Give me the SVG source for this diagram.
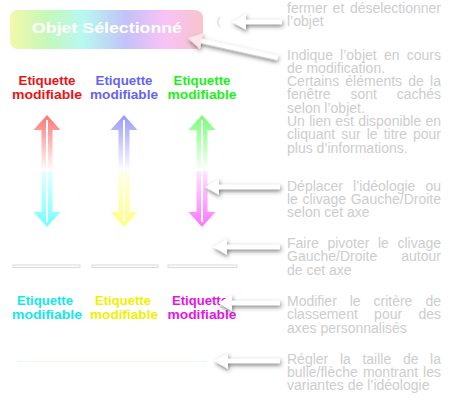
<svg xmlns="http://www.w3.org/2000/svg" width="450" height="400" viewBox="0 0 450 400">
<style>
.d{font-family:"Liberation Sans",Arial,sans-serif;font-size:14px;fill:#cdcdcd}
.e{text-anchor:end}
.lab{font-family:"Liberation Sans",Arial,sans-serif;font-size:13px;font-weight:bold;text-anchor:middle}
.ar{fill:#ffffff;filter:url(#sh)}
.trk{fill:#ffffff;stroke:#dadada;stroke-width:1}
.mid{stroke:#ffffff;stroke-width:2}
</style>
<defs>
<filter id="sh" x="-30%" y="-80%" width="160%" height="260%">
<feDropShadow dx="1" dy="2" stdDeviation="2.3" flood-color="#333" flood-opacity="0.65"/>
</filter>
<linearGradient id="btn" x1="0" y1="0" x2="1" y2="0">
<stop offset="0" stop-color="#f2f8a8"/>
<stop offset="0.2" stop-color="#c4f8bc"/>
<stop offset="0.38" stop-color="#b8f8f0"/>
<stop offset="0.6" stop-color="#c2c2f8"/>
<stop offset="0.8" stop-color="#f8c2f6"/>
<stop offset="1" stop-color="#f8c4cc"/>
</linearGradient>
<linearGradient id="g1" x1="0" y1="0" x2="0" y2="1">
<stop offset="0" stop-color="#ff0000" stop-opacity="0.55"/>
<stop offset="0.5" stop-color="#ff0000" stop-opacity="0"/>
<stop offset="0.5" stop-color="#00ffff" stop-opacity="0.1"/>
<stop offset="1" stop-color="#00ffff" stop-opacity="0.55"/>
</linearGradient>
<linearGradient id="g2" x1="0" y1="0" x2="0" y2="1">
<stop offset="0" stop-color="#3333ff" stop-opacity="0.5"/>
<stop offset="0.5" stop-color="#3333ff" stop-opacity="0"/>
<stop offset="0.5" stop-color="#ffff00" stop-opacity="0.1"/>
<stop offset="1" stop-color="#ffff00" stop-opacity="0.5"/>
</linearGradient>
<linearGradient id="g3" x1="0" y1="0" x2="0" y2="1">
<stop offset="0" stop-color="#00ff00" stop-opacity="0.55"/>
<stop offset="0.5" stop-color="#00ff00" stop-opacity="0"/>
<stop offset="0.5" stop-color="#ff00ff" stop-opacity="0.1"/>
<stop offset="1" stop-color="#ff00ff" stop-opacity="0.55"/>
</linearGradient>
<path id="dbl" d="M0,115 L13.5,130 L5.5,130 L5.5,212 L13.5,212 L0,227 L-13.5,212 L-5.5,212 L-5.5,130 L-13.5,130 Z"/>
</defs>

<g id="button">
<rect x="10" y="10" width="193" height="39" rx="8" fill="url(#btn)"/>
<text x="32" y="33" textLength="150" lengthAdjust="spacingAndGlyphs" style="font-family:'Liberation Sans',Arial,sans-serif;font-size:15px;font-weight:bold;fill:#ffffff">Objet Sélectionné</text>
</g>
<g id="close-icon">
<path d="M220,17 Q215.5,22 220,27" fill="none" stroke="#dcdcf6" stroke-width="1.5"/>
</g>

<g id="label-top-1"><text class="lab" x="47" y="85" fill="#e81414" textLength="57" lengthAdjust="spacingAndGlyphs">Etiquette</text><text class="lab" x="47" y="99" fill="#e81414" textLength="70" lengthAdjust="spacingAndGlyphs">modifiable</text></g>
<g id="label-top-2"><text class="lab" x="124" y="85" fill="#6464f0" textLength="57" lengthAdjust="spacingAndGlyphs">Etiquette</text><text class="lab" x="124" y="99" fill="#6464f0" textLength="68" lengthAdjust="spacingAndGlyphs">modifiable</text></g>
<g id="label-top-3"><text class="lab" x="202" y="85" fill="#1cf01c" textLength="57" lengthAdjust="spacingAndGlyphs">Etiquette</text><text class="lab" x="202" y="99" fill="#1cf01c" textLength="69" lengthAdjust="spacingAndGlyphs">modifiable</text></g>

<g id="axis-1"><use href="#dbl" x="47" fill="url(#g1)"/><line class="mid" x1="47" y1="120" x2="47" y2="222"/></g>
<g id="axis-2"><use href="#dbl" x="124" fill="url(#g2)"/><line class="mid" x1="124" y1="120" x2="124" y2="222"/></g>
<g id="axis-3"><use href="#dbl" x="202" fill="url(#g3)"/><line class="mid" x1="202" y1="120" x2="202" y2="222"/></g>

<g id="slider-1"><rect class="trk" x="13" y="265" width="67" height="2.5"/></g>
<g id="slider-2"><rect class="trk" x="92" y="265" width="66" height="2.5"/></g>
<g id="slider-3"><rect class="trk" x="168" y="265" width="69" height="2.5"/></g>

<g id="label-bottom-1"><text class="lab" x="45" y="305" fill="#14e8e8" textLength="56" lengthAdjust="spacingAndGlyphs">Etiquette</text><text class="lab" x="47" y="318.5" fill="#14e8e8" textLength="70" lengthAdjust="spacingAndGlyphs">modifiable</text></g>
<g id="label-bottom-2"><text class="lab" x="123" y="305" fill="#f0f000" textLength="56" lengthAdjust="spacingAndGlyphs">Etiquette</text><text class="lab" x="124" y="318.5" fill="#f0f000" textLength="68" lengthAdjust="spacingAndGlyphs">modifiable</text></g>
<g id="label-bottom-3"><text class="lab" x="200" y="305" fill="#e414e4" textLength="56" lengthAdjust="spacingAndGlyphs">Etiquette</text><text class="lab" x="202" y="318.5" fill="#e414e4" textLength="69" lengthAdjust="spacingAndGlyphs">modifiable</text></g>

<g id="size-slider"><line x1="17" y1="361.5" x2="207" y2="361.5" stroke="#e6f8e6" stroke-width="1"/></g>

<g id="connectors">
<path class="ar" transform="translate(232,22)" d="M0,0 L14,-8 L14,-2.3 L50,-2.3 L50,2.3 L14,2.3 L14,8 Z"/>
<g transform="translate(188,38) rotate(12.5)">
<path class="ar" d="M0,0 L14,-8 L14,-2.3 L92,-2.3 L92,2.3 L14,2.3 L14,8 Z"/>
<path d="M0,0 L14,-8 L14,8 Z" fill="#f8c8d4" opacity="0.45"/>
</g>
<path class="ar" transform="translate(205,187)" d="M0,0 L14,-8 L14,-2.3 L75,-2.3 L75,2.3 L14,2.3 L14,8 Z"/>
<path class="ar" transform="translate(213,247)" d="M0,0 L14,-8 L14,-2.3 L67,-2.3 L67,2.3 L14,2.3 L14,8 Z"/>
<path class="ar" transform="translate(218,303)" d="M0,0 L14,-8 L14,-2.3 L62,-2.3 L62,2.3 L14,2.3 L14,8 Z"/>
<path class="ar" transform="translate(214,361)" d="M0,0 L14,-8 L14,-2.3 L66,-2.3 L66,2.3 L14,2.3 L14,8 Z"/>
</g>

<g id="desc-close">
<text class="d" y="12.5"><tspan x="287">fermer</tspan><tspan x="332.6">et</tspan></text><text class="d e" x="441" y="12.5">déselectionner</text>
<text class="d" x="287" y="25.8">l’objet</text>
</g>

<g id="desc-object">
<text class="d" y="59.5"><tspan x="287">Indique</tspan><tspan x="340.1">l’objet</tspan><tspan x="383.9">en</tspan></text><text class="d e" x="441" y="59.5">cours</text>
<text class="d" x="287" y="72.8">de modification.</text>
<text class="d" y="86.1"><tspan x="287">Certains</tspan><tspan x="345.3">éléments</tspan><tspan x="408.3">de</tspan></text><text class="d e" x="441" y="86.1">la</text>
<text class="d" y="99.4"><tspan x="287">fenêtre</tspan><tspan x="350.4">sont</tspan></text><text class="d e" x="441" y="99.4">cachés</text>
<text class="d" x="287" y="112.7">selon l’objet.</text>
<text class="d" y="126"><tspan x="287">Un</tspan><tspan x="309.2">lien</tspan><tspan x="335.2">est</tspan><tspan x="358.2">disponible</tspan></text><text class="d e" x="441" y="126">en</text>
<text class="d" y="139.3"><tspan x="287">cliquant</tspan><tspan x="341.3">sur</tspan><tspan x="366.7">le</tspan><tspan x="383.7">titre</tspan></text><text class="d e" x="441" y="139.3">pour</text>
<text class="d" x="287" y="152.6">plus d’informations.</text>
</g>

<g id="desc-move">
<text class="d" y="190.5"><tspan x="287">Déplacer</tspan><tspan x="353.1">l’idéologie</tspan></text><text class="d e" x="441" y="190.5">ou</text>
<text class="d" y="203.8"><tspan x="287">le</tspan><tspan x="302.5">clivage</tspan></text><text class="d e" x="441" y="203.8">Gauche/Droite</text>
<text class="d" x="287" y="217.1">selon cet axe</text>
</g>

<g id="desc-rotate">
<text class="d" y="248"><tspan x="287">Faire</tspan><tspan x="327.4">pivoter</tspan><tspan x="377.9">le</tspan></text><text class="d e" x="441" y="248">clivage</text>
<text class="d" x="287" y="261.3">Gauche/Droite</text><text class="d e" x="441" y="261.3">autour</text>
<text class="d" x="287" y="274.6">de cet axe</text>
</g>

<g id="desc-sort">
<text class="d" y="306"><tspan x="287">Modifier</tspan><tspan x="349.7">le</tspan><tspan x="373.5">critère</tspan></text><text class="d e" x="441" y="306">de</text>
<text class="d" x="287" y="319.3">classement</text><text class="d" x="374.1" y="319.3">pour</text><text class="d e" x="441" y="319.3">des</text>
<text class="d" x="287" y="332.6">axes personnalisés</text>
</g>

<g id="desc-size">
<text class="d" y="363.5"><tspan x="287">Régler</tspan><tspan x="339.9">la</tspan><tspan x="362.4">taille</tspan><tspan x="402.9">de</tspan></text><text class="d e" x="441" y="363.5">la</text>
<text class="d" y="376.8"><tspan x="287">bulle/flèche</tspan><tspan x="362.9">montrant</tspan></text><text class="d e" x="441" y="376.8">les</text>
<text class="d" x="287" y="390.1">variantes de l’idéologie</text>
</g>
</svg>
